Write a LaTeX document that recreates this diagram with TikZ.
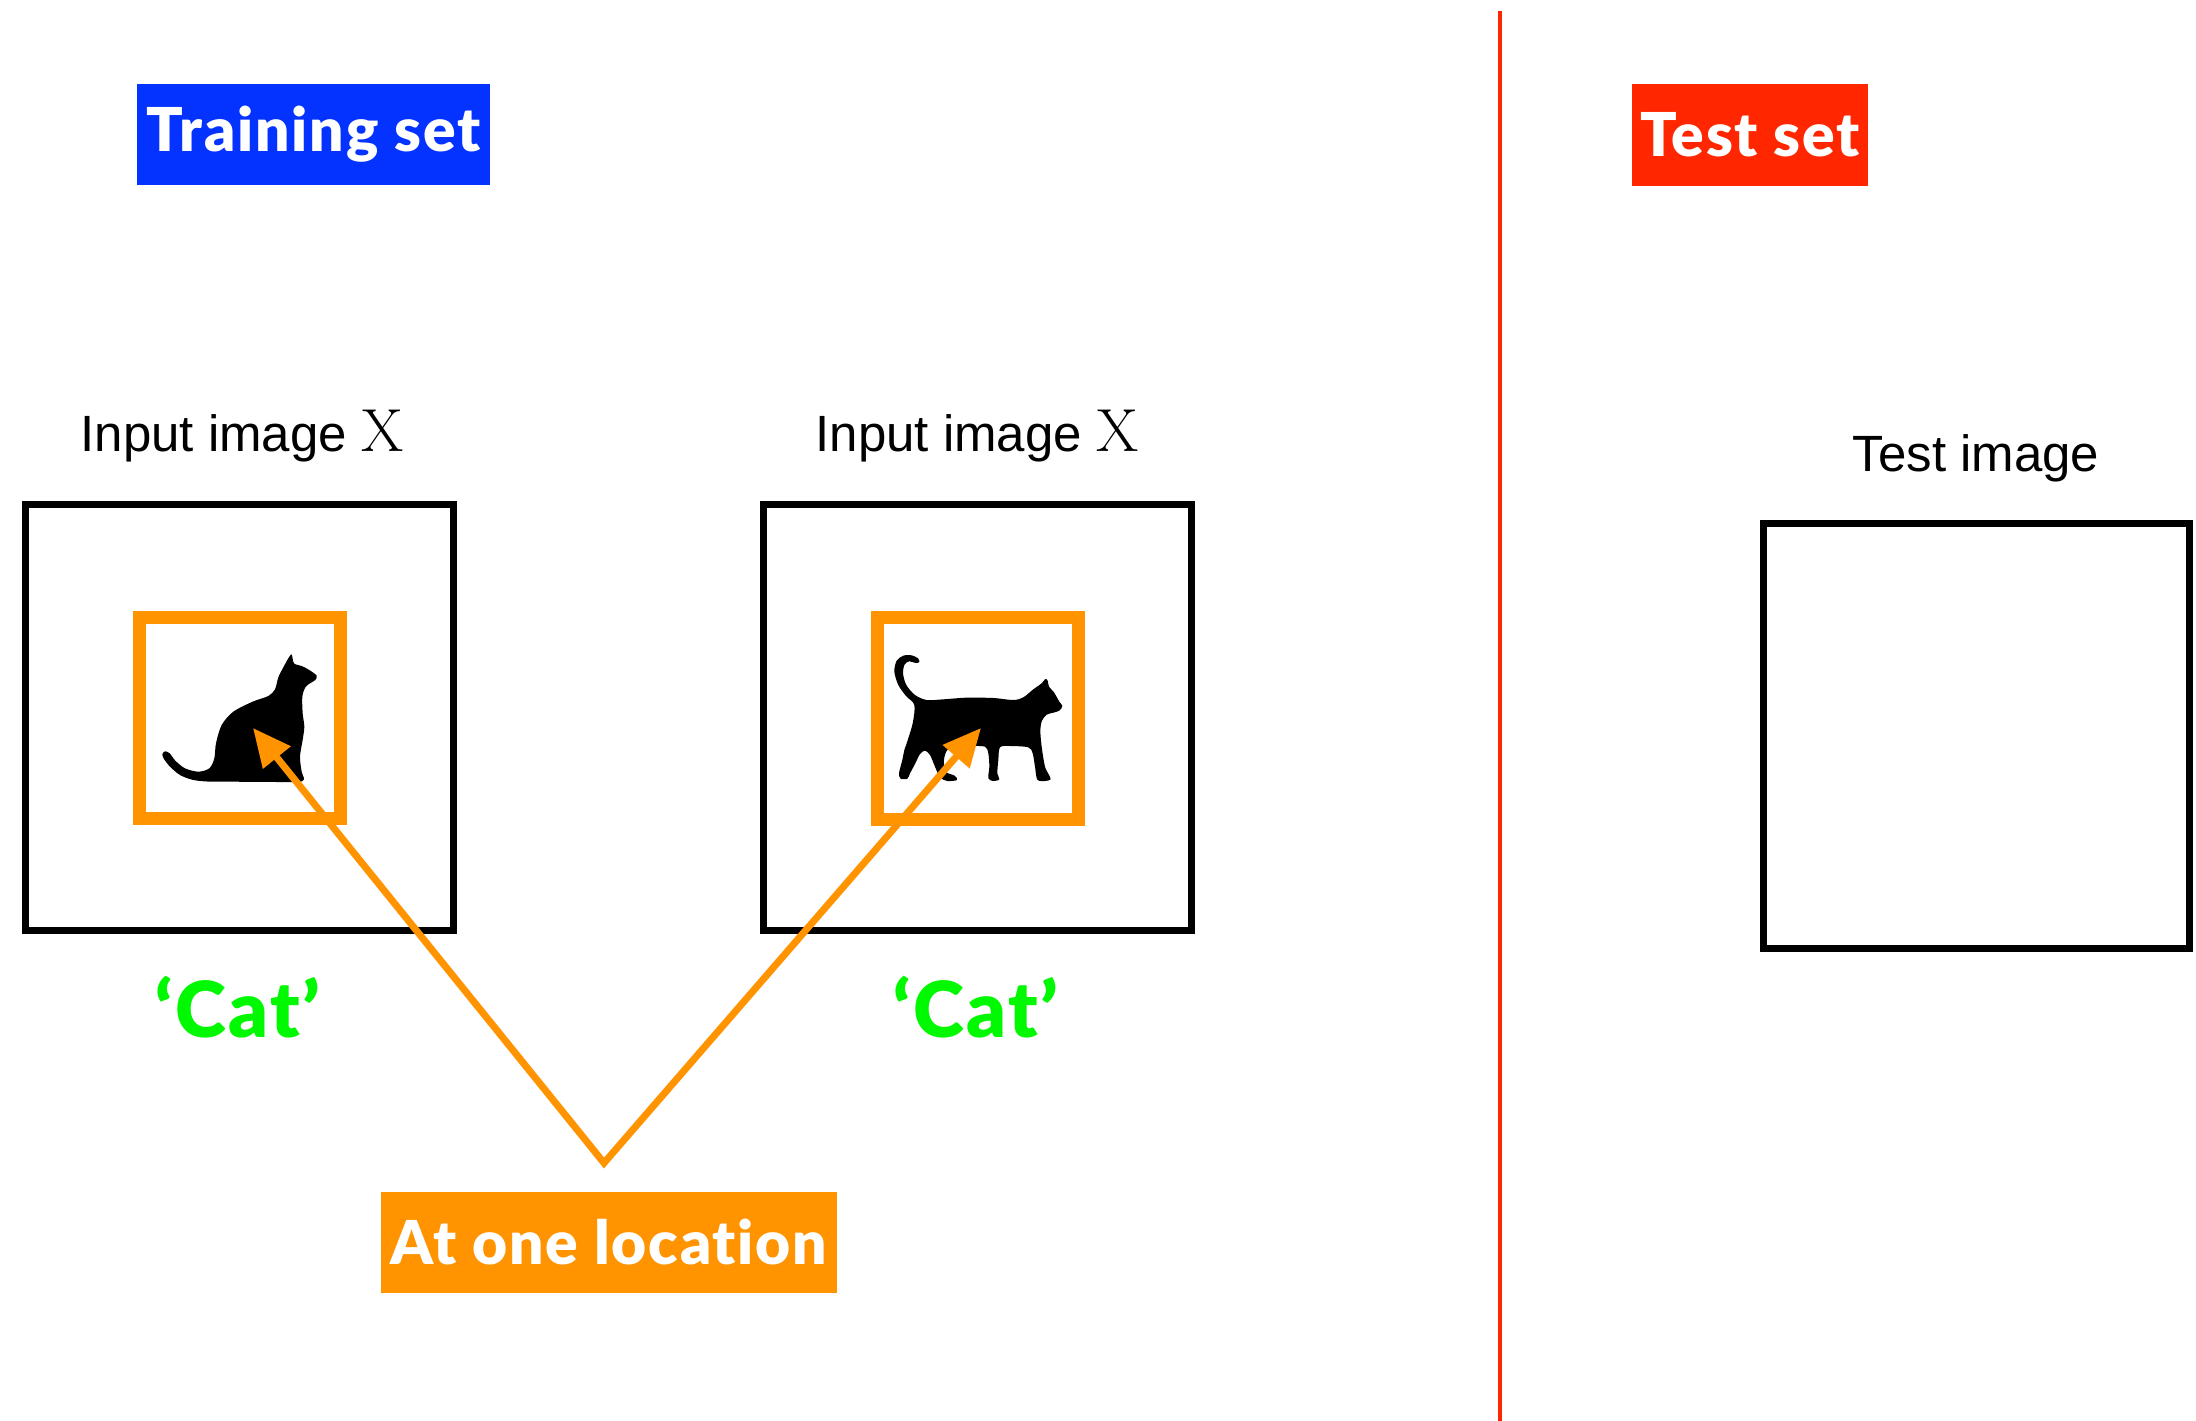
\documentclass[tikz,border=0pt]{standalone}
\usepackage[no-math]{fontspec}
\setmainfont{Liberation Sans}
\newfontfamily\heavy{Lato Black}[LetterSpace=3, Ligatures=NoCommon]
\usetikzlibrary{arrows.meta}
\definecolor{setblue}{HTML}{0433FF}
\definecolor{setred}{HTML}{FF2600}
\definecolor{tangerine}{HTML}{FF9300}
\definecolor{labelgreen}{HTML}{00F900}
\begin{document}
\begin{tikzpicture}[x=0.01cm, y=-0.01cm,
  frame/.style={draw=black, line width=0.07cm, minimum width=4.28cm, minimum height=4.26cm, inner sep=0pt, outer sep=0pt},
  crop/.style={draw=tangerine, line width=0.13cm, minimum width=2.01cm, minimum height=2.01cm, inner sep=0pt, outer sep=0pt},
  tag/.style={fill=#1, text=white, font=\heavy\fontsize{17.2}{20}\selectfont, inner sep=0pt, minimum height=1.01cm},
  caption/.style={font=\fontsize{14.5}{17}\selectfont, anchor=base, inner sep=0pt},
  catlabel/.style={text=labelgreen, font=\heavy\fontsize{22}{26}\selectfont, anchor=base, inner sep=0pt},
  pointer/.style={draw=tangerine, line width=0.07cm, line join=miter,
    {Triangle[length=0.38cm, width=0.34cm]}-{Triangle[length=0.38cm, width=0.34cm]}},
  silhouette/.style={fill=black}
]
\useasboundingbox (0,0) rectangle (2196,1421);

% divider between the two halves
\draw[setred, line width=0.04cm] (1500,11) -- (1500,1421);

% headers
\node[tag=setblue, minimum width=3.53cm] (train) at (313.5,134.5) {Training set};
\node[tag=setred, minimum width=2.36cm] (test) at (1750,135) {Test set};

% captions
\node[caption] (capA) at (242,451) {Input image {\fontsize{17}{20}\selectfont$\mathrm{X}$}};
\node[caption] (capB) at (977,451) {Input image {\fontsize{17}{20}\selectfont$\mathrm{X}$}};
\node[caption] (capT) at (1976,471) {Test image};

% image frames
\node[frame] (imgA) at (239.5,717.5) {};
\node[frame] (imgB) at (977.5,717.5) {};
\node[frame, minimum width=4.26cm, minimum height=4.25cm] (imgT) at (1976.5,736) {};

% sitting cat
\begin{scope}[shift={(120,590)}, scale=1/3]
  \fill[silhouette] plot[smooth cycle, tension=0.5] coordinates {
    (515,193) (522,220) (545,228) (568,240) (590,257) (586,270) (570,280)
    (556,292) (547,320) (548,370) (553,410) (548,450) (540,500) (545,545)
    (552,568) (535,576) (470,576) (320,575) (270,575) (220,570) (180,555)
    (150,530) (132,507) (127,493) (135,484) (149,490) (166,512) (195,535)
    (235,545) (268,535) (283,505) (288,460) (305,405) (340,365) (398,335)
    (445,318) (465,298) (475,262) (490,232) (505,205)};
\end{scope}

% walking cat
\begin{scope}[shift={(860,590)}, scale=1/3]
  \fill[silhouette] plot[smooth cycle, tension=0.5] coordinates {
    (140,460) (158,400) (163,345) (138,318) (115,285) (103,245) (110,212)
    (130,197) (155,196) (174,205) (178,216) (167,219) (148,214) (134,223)
    (129,250) (139,285) (165,315) (200,330) (250,328) (320,323) (400,324)
    (460,330) (490,322) (520,298) (545,280) (556,267) (563,272) (567,290)
    (582,307) (598,335) (607,348) (598,362) (580,368) (560,374) (546,392)
    (541,420) (545,470) (555,530) (566,553) (572,568) (555,573) (532,569)
    (525,530) (518,490) (505,472) (450,468) (420,472) (415,510) (412,550)
    (418,568) (400,573) (385,565) (388,530) (385,490) (375,470) (330,468)
    (290,468) (262,480) (252,510) (257,545) (284,557) (291,570) (262,573)
    (240,562) (225,530) (210,495) (195,482) (180,492) (165,522) (150,550)
    (142,566) (122,566) (117,550) (127,510) (133,480)};
\end{scope}

% highlighted patches
\node[crop] (patchA) at (240,718) {};
\node[crop] (patchB) at (978,718.5) {};

% labels
\node[catlabel] (labA) at (238,1037) {‘Cat’};
\node[catlabel] (labB) at (976,1037) {‘Cat’};

% pointers to the patches
\coordinate (apex) at (604,1163);
\coordinate (tipA) at (253,728);
\coordinate (tipB) at (981,728);
\draw[pointer] (tipA) -- (apex) -- (tipB);

\node[tag=tangerine, minimum width=4.56cm] (loc) at (609,1242.5) {At one location};
\end{tikzpicture}
\end{document}
